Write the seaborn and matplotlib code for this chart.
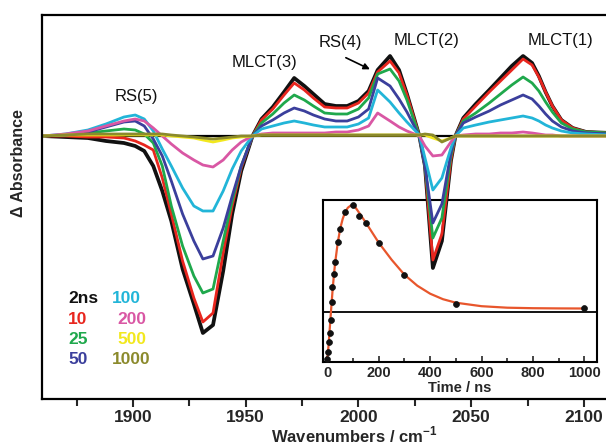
import numpy as np
import pandas as pd
import matplotlib
matplotlib.use('Agg')
import matplotlib.pyplot as plt
import seaborn as sns

# ---------------- data ----------------
wavenumbers = [1860, 1870, 1880, 1888, 1896, 1901, 1905, 1909, 1913, 1917,
               1922, 1927, 1931, 1935.5, 1940, 1944, 1948, 1953, 1957, 1962,
               1967, 1971.5, 1976, 1980, 1985, 1990, 1995, 2000, 2004.5, 2008.5,
               2014, 2018, 2021.5, 2027, 2029.5, 2033, 2037, 2041, 2043, 2046.5,
               2052, 2058, 2063, 2068, 2073, 2077, 2080, 2083, 2086, 2090,
               2095, 2101, 2112]

delays = ['2ns', '10', '25', '50', '100', '200', '500', '1000']

dA_2ns = [0.00, -0.01, -0.02, -0.05, -0.07, -0.10, -0.15, -0.30, -0.55, -0.85,
          -1.33, -1.68, -1.97, -1.89, -1.35, -0.78, -0.35, 0.00, 0.17, 0.29,
          0.44, 0.58, 0.50, 0.42, 0.32, 0.30, 0.30, 0.35, 0.45, 0.66,
          0.80, 0.66, 0.42, 0.00, -0.30, -1.32, -1.05, -0.25, 0.00, 0.18,
          0.32, 0.46, 0.58, 0.70, 0.80, 0.73, 0.60, 0.44, 0.30, 0.16,
          0.08, 0.04, 0.03]
dA_10 = [0.00, 0.00, -0.01, -0.01, -0.02, -0.05, -0.09, -0.14, -0.42, -0.78,
         -1.25, -1.62, -1.86, -1.77, -1.17, -0.70, -0.32, 0.00, 0.16, 0.27,
         0.41, 0.53, 0.46, 0.38, 0.29, 0.28, 0.28, 0.33, 0.43, 0.64,
         0.75, 0.63, 0.41, 0.00, -0.30, -1.24, -0.98, -0.24, 0.00, 0.17,
         0.30, 0.44, 0.55, 0.66, 0.77, 0.71, 0.59, 0.44, 0.30, 0.16,
         0.08, 0.04, 0.03]
dA_25 = [0.00, 0.01, 0.03, 0.05, 0.07, 0.06, 0.02, -0.07, -0.30, -0.70,
         -1.10, -1.40, -1.57, -1.53, -1.05, -0.65, -0.30, 0.00, 0.13, 0.22,
         0.33, 0.41, 0.36, 0.30, 0.23, 0.22, 0.22, 0.27, 0.38, 0.62,
         0.67, 0.55, 0.36, 0.00, -0.30, -1.02, -0.82, -0.20, 0.00, 0.15,
         0.23, 0.33, 0.42, 0.51, 0.59, 0.53, 0.45, 0.34, 0.24, 0.13,
         0.07, 0.04, 0.03]
dA_50 = [0.00, 0.01, 0.04, 0.09, 0.14, 0.15, 0.10, -0.03, -0.20, -0.45,
         -0.78, -1.05, -1.23, -1.20, -0.92, -0.60, -0.30, 0.00, 0.10, 0.16,
         0.23, 0.28, 0.25, 0.21, 0.17, 0.15, 0.15, 0.19, 0.27, 0.58,
         0.50, 0.37, 0.24, 0.00, -0.30, -0.87, -0.68, -0.17, 0.00, 0.13,
         0.19, 0.25, 0.31, 0.36, 0.41, 0.37, 0.30, 0.22, 0.15, 0.09,
         0.05, 0.03, 0.02]
dA_100 = [0.00, 0.02, 0.06, 0.12, 0.19, 0.21, 0.17, 0.05, -0.13, -0.30,
          -0.52, -0.70, -0.75, -0.75, -0.55, -0.33, -0.15, 0.00, 0.07, 0.10,
          0.13, 0.15, 0.13, 0.11, 0.09, 0.09, 0.09, 0.12, 0.18, 0.46,
          0.34, 0.23, 0.14, 0.01, -0.22, -0.54, -0.42, -0.12, 0.00, 0.08,
          0.11, 0.14, 0.16, 0.18, 0.20, 0.18, 0.15, 0.11, 0.08, 0.05,
          0.03, 0.02, 0.01]
dA_200 = [0.00, 0.02, 0.05, 0.10, 0.15, 0.17, 0.15, 0.08, 0.00, -0.08,
          -0.17, -0.24, -0.29, -0.31, -0.24, -0.14, -0.06, 0.00, 0.02, 0.03,
          0.03, 0.03, 0.03, 0.03, 0.03, 0.04, 0.04, 0.06, 0.10, 0.23,
          0.15, 0.09, 0.05, 0.00, -0.10, -0.20, -0.19, -0.06, 0.00, 0.01,
          0.02, 0.02, 0.03, 0.03, 0.04, 0.03, 0.02, 0.01, 0.01, 0.00,
          0.00, 0.00, 0.00]
dA_500 = [0.00, 0.01, 0.01, 0.01, 0.01, 0.01, 0.01, 0.01, 0.01, 0.00,
          -0.01, -0.02, -0.04, -0.06, -0.04, -0.02, -0.01, 0.00, 0.01, 0.01,
          0.01, 0.01, 0.01, 0.01, 0.01, 0.01, 0.01, 0.01, 0.01, 0.01,
          0.01, 0.01, 0.01, 0.01, 0.01, -0.02, -0.05, -0.02, 0.00, 0.00,
          0.00, 0.00, 0.00, 0.00, 0.00, 0.00, 0.00, 0.00, 0.00, 0.00,
          0.00, 0.00, 0.00]
dA_1000 = [0.00, 0.01, 0.02, 0.02, 0.02, 0.02, 0.02, 0.02, 0.02, 0.01,
           0.00, -0.01, -0.02, -0.03, -0.02, -0.01, 0.00, 0.00, 0.01, 0.01,
           0.01, 0.01, 0.01, 0.01, 0.01, 0.01, 0.01, 0.01, 0.01, 0.01,
           0.01, 0.01, 0.01, 0.01, 0.02, 0.01, -0.06, -0.02, 0.00, 0.00,
           0.00, 0.00, 0.00, 0.00, 0.00, 0.00, 0.00, 0.00, 0.00, 0.00,
           0.00, 0.00, 0.00]

series = [dA_2ns, dA_10, dA_25, dA_50, dA_100, dA_200, dA_500, dA_1000]

# inset kinetic trace
inset_time = [0, 3, 6, 9, 13, 17, 20, 25, 30, 40, 50, 70, 100, 125, 150, 200, 300, 500, 1000]
inset_signal = [-0.47, -0.40, -0.30, -0.21, -0.08, 0.10, 0.25, 0.38, 0.50, 0.70,
                0.83, 1.00, 1.07, 0.96, 0.89, 0.69, 0.37, 0.08, 0.04]
fit_time = [0, 5, 10, 15, 20, 25, 30, 40, 50, 60, 70, 80, 90, 100, 110, 125, 150,
            175, 200, 250, 300, 350, 400, 450, 500, 600, 700, 800, 900, 1000]
fit_signal = [-0.47, -0.33, -0.15, 0.03, 0.20, 0.35, 0.48, 0.68, 0.83, 0.93, 1.00,
              1.04, 1.06, 1.06, 1.04, 0.985, 0.89, 0.79, 0.69, 0.52, 0.37, 0.26,
              0.18, 0.125, 0.09, 0.055, 0.04, 0.035, 0.033, 0.032]

palette = {'2ns': '#111111', '10': '#e8261e', '25': '#1fa84c', '50': '#3b3f9c',
           '100': '#22b5d8', '200': '#d957a4', '500': '#f2e81e', '1000': '#8b8a2c'}

labels_text = [('RS(5)', 1901.6, 0.39), ('MLCT(3)', 1958.5, 0.73), ('RS(4)', 1991.8, 0.93),
               ('MLCT(2)', 2030.2, 0.95), ('MLCT(1)', 2089.4, 0.95)]

# ---------------- build ----------------
df = pd.DataFrame({
    'wavenumber': np.tile(wavenumbers, len(delays)),
    'dA': np.concatenate([np.array(s, dtype=float) for s in series]),
    'delay': np.repeat(delays, len(wavenumbers)),
})

sns.set_style('ticks')
plt.rcParams['font.family'] = ['Liberation Sans', 'DejaVu Sans']
plt.rcParams['mathtext.fontset'] = 'custom'
plt.rcParams['mathtext.rm'] = 'Liberation Sans'
plt.rcParams['mathtext.bf'] = 'Liberation Sans:bold'

fig = plt.figure(figsize=(6.06, 4.48), dpi=100)
fig.patch.set_facecolor('white')

ax = fig.add_axes([42 / 606, 49 / 448, 569 / 606, 384 / 448])
ax.set_zorder(2)
ax.patch.set_alpha(0)

ax.axhline(0, color='black', lw=1.6, zorder=1)
sns.lineplot(data=df, x='wavenumber', y='dA', hue='delay', hue_order=delays,
             palette=palette, sort=False, legend=False, lw=2.0, ax=ax, zorder=2)
ax.lines[1].set_linewidth(2.7)

ax.set_xlim(1859.65, 2112)
ax.set_ylim(-2.63, 1.21)
ax.set_xticks([1900, 1950, 2000, 2050, 2100])
ax.set_xticks([1875, 1925, 1975, 2025, 2075], minor=True)
ax.set_yticks([])
ax.tick_params(axis='x', which='major', direction='out', length=6, width=1.5,
               labelsize=12.5, pad=2)
ax.tick_params(axis='x', which='minor', direction='out', length=5, width=1.5)
for lbl in ax.get_xticklabels():
    lbl.set_fontweight('bold')
for sp in ax.spines.values():
    sp.set_linewidth(1.6)
    sp.set_color('black')

ax.set_xlabel(r'Wavenumbers / cm$^{\mathbf{-1}}$', fontsize=12, fontweight='bold')
ax.xaxis.set_label_coords(0.549, -0.066)
ax.set_ylabel('Δ Absorbance', fontsize=11.5, fontweight='bold', va='center')
ax.yaxis.set_label_coords(-0.042, 0.615)

for txt, x, y in labels_text:
    ax.text(x, y, txt, fontsize=12, ha='center', va='center', color='#111111')
ax.annotate('', xy=(2006.2, 0.655), xytext=(1993.3, 0.795),
            arrowprops=dict(arrowstyle='-|>', color='black', lw=1.2, mutation_scale=9))

# legend as coloured text
leg_rows = [-1.62, -1.83, -2.03, -2.23]
col1 = [('2ns', 1871.2), ('10', 1871.2), ('25', 1871.2), ('50', 1871.2)]
col2 = [('100', 1890.7), ('200', 1893.3), ('500', 1893.3), ('1000', 1890.7)]
for (t, x), y in zip(col1, leg_rows):
    ax.text(x, y, t, color=palette[t], fontsize=12.5, fontweight='bold', ha='left', va='center')
for (t, x), y in zip(col2, leg_rows):
    ax.text(x, y, t, color=palette[t], fontsize=12.5, fontweight='bold', ha='left', va='center')

# ---------------- inset ----------------
axi = fig.add_axes([322.7 / 606, (448 - 361.7) / 448, 274 / 606, 161.7 / 448])
axi.set_zorder(1)
axi.set_facecolor('white')
axi.axhline(0, color='black', lw=1.3, zorder=1)
sns.lineplot(x=fit_time, y=fit_signal, color='#e8562c', lw=1.6, ax=axi, zorder=2)
sns.scatterplot(x=inset_time, y=inset_signal, color='#111111', s=18, edgecolor='#111111',
                linewidth=0.5, ax=axi, zorder=3)
axi.set_xlim(-18, 1048)
axi.set_ylim(-0.5, 1.117)
axi.set_xticks([0, 200, 400, 600, 800, 1000])
axi.set_xticks([100, 300, 500, 700, 900], minor=True)
axi.set_yticks([])
axi.tick_params(axis='x', which='major', direction='in', length=4, width=1.2,
                labelsize=10.5, pad=3)
axi.tick_params(axis='x', which='minor', direction='in', length=3, width=1.2)
for lbl in axi.get_xticklabels():
    lbl.set_fontweight('bold')
for sp in axi.spines.values():
    sp.set_linewidth(1.5)
    sp.set_color('black')
axi.set_xlabel('Time / ns', fontsize=10.5, fontweight='bold', labelpad=1)
axi.set_ylabel('')

fig.savefig('out.png', dpi=100)
